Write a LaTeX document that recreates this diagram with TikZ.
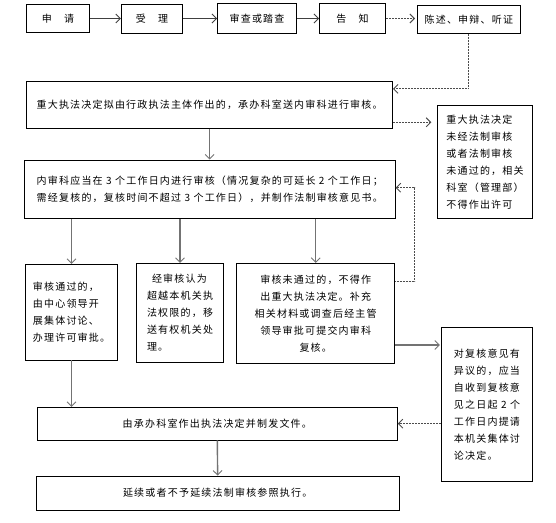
\documentclass[tikz,border=0pt]{standalone}
\usepackage{fontspec}
\newfontfamily\cjk[LetterSpace=12]{Noto Sans CJK SC}
\usetikzlibrary{arrows.meta}
\begin{document}
\begin{tikzpicture}[x=1pt,y=-1pt,
  box/.style={draw=black,line width=0.8pt,inner sep=0pt,font=\cjk\fontsize{10}{17}\selectfont},
  tip/.style={-{Straight Barb[length=4.5pt,width=9pt,line width=0.9pt]}},
  solidarr/.style={tip,draw=black!75,line width=1.2pt},
  grayarr/.style={tip,draw=black!55,line width=1.4pt},
  dotarr/.style={tip,draw=black!70,line width=0.9pt,dash pattern=on 0.8pt off 0.7pt}]
\useasboundingbox (0,0) rectangle (556,522);
% top row
\node[box,minimum width=62.8pt,minimum height=28.4pt] (apply) at (58,18.5) {申　请};
\node[box,minimum width=61.3pt,minimum height=29pt] (accept) at (152,18.5) {受　理};
\node[box,minimum width=79.1pt,minimum height=29.3pt] (review) at (257,18.5) {审查或踏查};
\node[box,minimum width=66pt,minimum height=30pt] (inform) at (352.5,18.5) {告　知};
\node[box,minimum width=102.8pt,minimum height=28pt] (state) at (468.8,19.3) {陈述、申辩、听证};
% main boxes
\node[box,minimum width=365.8pt,minimum height=46.6pt] (b1) at (209.6,105) {重大执法决定拟由行政执法主体作出的，承办科室送内审科进行审核。};
\node[box,minimum width=94.6pt,minimum height=112.6pt,align=left] (right1) at (485,162) {重大执法决定\\未经法制审核\\或者法制审核\\未通过的，相关\\科室（管理部）\\不得作出许可};
\node[box,minimum width=370.9pt,minimum height=58.3pt,align=left] (b2) at (209.75,189.15) {内审科应当在 3 个工作日内进行审核（情况复杂的可延长 2 个工作日；\\需经复核的，复核时间不超过 3 个工作日），并制作法制审核意见书。};
\node[box,minimum width=91.6pt,minimum height=95.7pt,align=left] (ok) at (71.5,312.15) {审核通过的，\\由中心领导开\\展集体讨论、\\办理许可审批。};
\node[box,minimum width=86.6pt,minimum height=99pt,align=left] (beyond) at (180,312.8) {\hspace*{5pt}经审核认为\\超越本机关执\\法权限的，移\\送有权机关处\\理。};
\node[box,minimum width=158pt,minimum height=100pt,align=center] (fail) at (315.7,313.3) {审核未通过的，不得作\\出重大执法决定。补充\\相关材料或调查后经主管\\领导审批可提交内审科\\复核。};
\node[box,minimum width=91.4pt,minimum height=153.3pt,align=left] (right2) at (487,404.35) {对复核意见有\\异议的，应当\\自收到复核意\\见之日起 2 个\\工作日内提请\\本机关集体讨\\论决定。};
\node[box,minimum width=360pt,minimum height=32.7pt] (issue) at (217.3,423.65) {由承办科室作出执法决定并制发文件。};
\node[box,minimum width=363.3pt,minimum height=34.3pt] (cont) at (217.65,493.15) {延续或者不予延续法制审核参照执行。};
% top row arrows
\draw[solidarr] (apply.east) -- (accept.west);
\draw[solidarr] (accept.east) -- (review.west);
\draw[solidarr] (review.east) -- (inform.west);
\draw[dotarr,shorten >=2pt] (inform.east) -- (state.west |- inform.east);
\draw[dotarr] (state.south) |- ([yshift=-7.6pt]b1.north east);
% main flow
\draw[grayarr] (b1.south) -- (b1.south |- b2.north);
\draw[dotarr,shorten >=6pt] ([yshift=-17.3pt]b1.east) -- ([yshift=-17.3pt]b1.east -| right1.west);
\draw[grayarr] (ok.north |- b2.south) -- (ok.north);
\draw[grayarr] (beyond.north |- b2.south) -- (beyond.north);
\draw[grayarr] (fail.north |- b2.south) -- (fail.north);
\draw[dotarr] ([yshift=-18.4pt]fail.north east) -- ++(19.6,0) |- ([yshift=1.5pt]b2.east);
\draw[grayarr,shorten >=1pt] ([yshift=-31.7pt]fail.east) -- ([yshift=-31.7pt]fail.east -| right2.west);
\draw[grayarr] (ok.south) -- (ok.south |- issue.north);
\draw[dotarr] (right2.west |- issue.east) -- (issue.east);
\draw[grayarr] (issue.south) -- (cont.north);
\end{tikzpicture}
\end{document}
